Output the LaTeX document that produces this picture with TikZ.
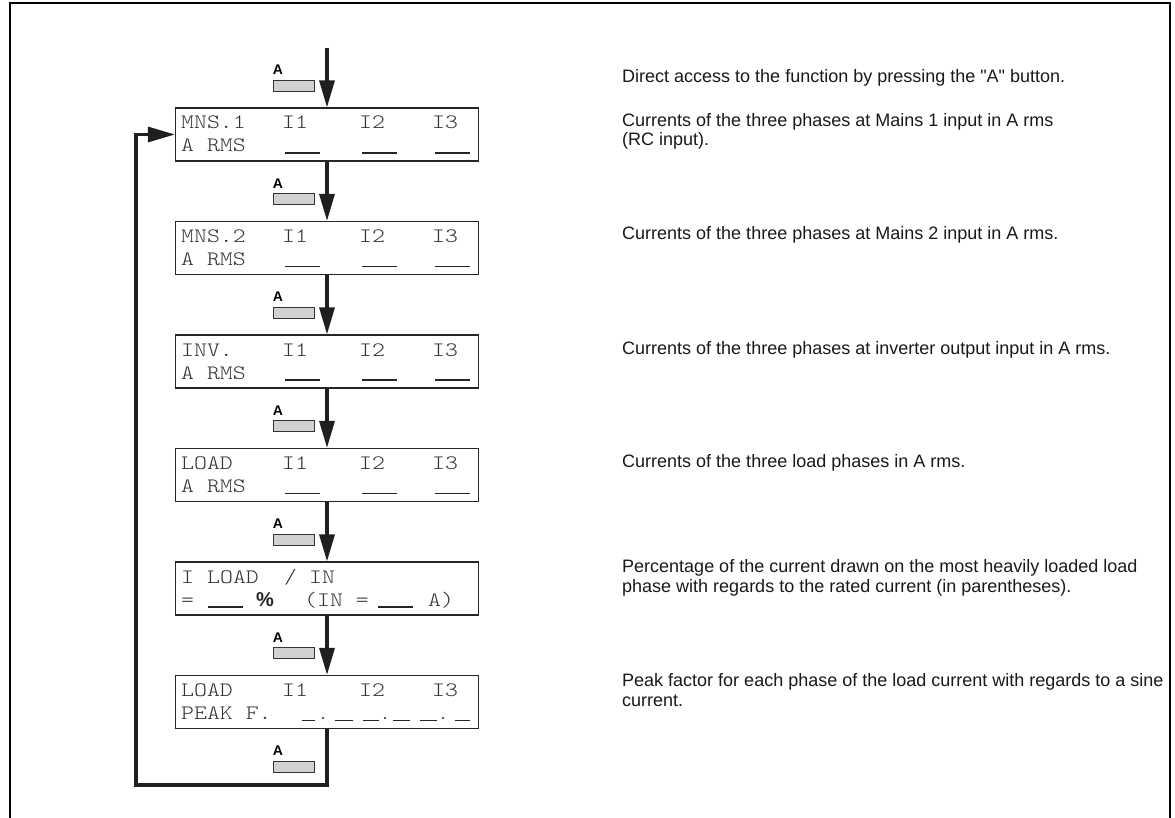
\documentclass[tikz,border=0pt]{standalone}
\usepackage{fontspec}
\setmainfont{Liberation Sans}[Ligatures=TeXOff]
\newfontfamily\lcdfont{lmmonolt10-regular.otf}[FakeStretch=1.2]
\usetikzlibrary{arrows.meta}
\begin{document}
\begin{tikzpicture}[x=1pt,y=-1pt,
  lcd/.style={draw=black!85, line width=1.2pt, minimum width=303pt, minimum height=53pt, inner sep=0pt},
  lcdtxt/.style={anchor=base west, inner sep=0pt, font=\lcdfont\fontsize{20.5}{21}\selectfont, text=black!80},
  pct/.style={anchor=base west, inner sep=0pt, font=\bfseries\fontsize{20}{20}\selectfont, text=black!85},
  blank/.style={line width=1.1pt, draw=black!85},
  btn/.style={draw=black!80, fill=black!18, line width=0.8pt, minimum width=41pt, minimum height=11pt, inner sep=0pt},
  btnlabel/.style={font=\bfseries\fontsize{14}{14}\selectfont, inner sep=0pt},
  flow/.style={line width=3.2pt, draw=black!88, line join=miter, -{Triangle[length=27pt,width=15pt]}},
  desc/.style={anchor=base west, inner sep=0pt, font=\fontsize{18}{18}\selectfont, text=black!90}]
\useasboundingbox (0,0) rectangle (1175,818);
% frame
\draw[line width=2pt] (10,818) -- (10,3) -- (1170,3) -- (1170,818);

% LCD boxes
\node[lcd] (b1) at (327,134.5) {};
\node[lcd] (b2) at (327,248) {};
\node[lcd] (b3) at (327,361.5) {};
\node[lcd] (b4) at (327,475) {};
\node[lcd] (b5) at (327,588.5) {};
\node[lcd] (b6) at (327,702) {};

% buttons
\foreach \n/\t in {1/108,2/221.5,3/335,4/448.5,5/562,6/675.5,7/789}{
  \node[btn] (k\n) at (293.5,\t-22.5) {};
  \node[btnlabel] (la\n) at (278,\t-38) {A};
}

% column headings I1 I2 I3 and blanks
\foreach \n/\t in {1/108,2/221.5,3/335,4/448.5,6/675.5}{
  \node[lcdtxt] (i1\n) at (282,\t+21) {I1};
  \node[lcdtxt] (i2\n) at (359,\t+21) {I2};
  \node[lcdtxt] (i3\n) at (432,\t+21) {I3};
}
\foreach \t in {108,221.5,335,448.5}{
  \draw[blank] (285,\t+45) -- (320,\t+45);
  \draw[blank] (362,\t+45) -- (397,\t+45);
  \draw[blank] (435,\t+45) -- (470,\t+45);
}

% box texts
\node[lcdtxt] (m1a) at (181,129) {MNS.1};
\node[lcdtxt] (m1b) at (181,152) {A RMS};
\node[lcdtxt] (m2a) at (181,242.5) {MNS.2};
\node[lcdtxt] (m2b) at (181,265.5) {A RMS};
\node[lcdtxt] (m3a) at (181,356) {INV.};
\node[lcdtxt] (m3b) at (181,379) {A RMS};
\node[lcdtxt] (m4a) at (181,469.5) {LOAD};
\node[lcdtxt] (m4b) at (181,492.5) {A RMS};
% box 5
\node[lcdtxt] (m5a) at (181,583) {I};
\node[lcdtxt] (m5b) at (207,583) {LOAD};
\node[lcdtxt] (m5c) at (284,583) {/};
\node[lcdtxt] (m5d) at (309,583) {IN};
\node[lcdtxt] (m5e) at (181,606) {=};
\draw[blank] (208,607) -- (243,607);
\node[pct] (m5f) at (256,606) {\%};
\node[lcdtxt] (m5g) at (304,606) {(IN =};
\draw[blank] (378,607) -- (413,607);
\node[lcdtxt] (m5h) at (428,606) {A)};
% box 6
\node[lcdtxt] (m6a) at (181,696.5) {LOAD};
\node[lcdtxt] (m6b) at (181,719.5) {PEAK F.};
\foreach \a/\b in {302/315,335/353,363/379,393/410,420/437,455/470}{
  \draw[blank] (\a,720.5) -- (\b,720.5);
}
\foreach \d in {323,385,443}{
  \fill[black!85] (\d,718) circle (1.1pt);
}

% flow arrows
\coordinate (start) at (327,48);
\draw[flow] (start) -- (b1.north);
\draw[flow] (b1.south) -- (b2.north);
\draw[flow] (b2.south) -- (b3.north);
\draw[flow] (b3.south) -- (b4.north);
\draw[flow] (b4.south) -- (b5.north);
\draw[flow] (b5.south) -- (b6.north);
\coordinate (r1) at (327,785);
\coordinate (r2) at (136,785);
\coordinate (r3) at (136,134.5);
\draw[flow] (b6.south) -- (r1) -- (r2) -- (r3) -- (b1.west);

% descriptions
\node[desc] (d1) at (622,83) {Direct access to the function by pressing the "A" button.};
\node[desc] (d2) at (622,127) {Currents of the three phases at Mains 1 input in A rms};
\node[desc] (d2b) at (622,146) {(RC input).};
\node[desc] (d3) at (622,240) {Currents of the three phases at Mains 2 input in A rms.};
\node[desc] (d4) at (622,354) {Currents of the three phases at inverter output input in A rms.};
\node[desc] (d5) at (622,467) {Currents of the three load phases in A rms.};
\node[desc] (d6) at (622,572) {Percentage of the current drawn on the most heavily loaded load};
\node[desc] (d6b) at (622,592) {phase with regards to the rated current (in parentheses).};
\node[desc] (d7) at (622,686) {Peak factor for each phase of the load current with regards to a sine};
\node[desc] (d7b) at (622,706) {current.};
\end{tikzpicture}
\end{document}
